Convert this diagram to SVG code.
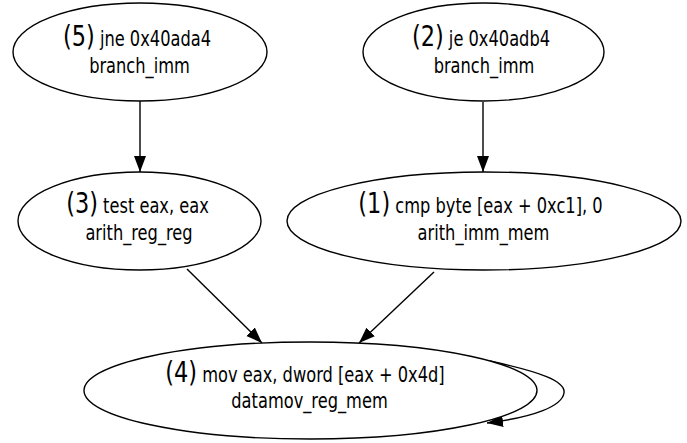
<svg xmlns="http://www.w3.org/2000/svg" width="687" height="443" viewBox="0 0 687 443">
<style>
.n{fill:#fff;stroke:#000;stroke-width:1.4}
.e{fill:none;stroke:#000;stroke-width:1.4}
text{font-family:"DejaVu Sans Condensed","DejaVu Sans",sans-serif;font-size:21px;fill:#000;text-anchor:middle}
.b{font-size:29px}
</style>
<defs>
<marker id="ah" markerUnits="userSpaceOnUse" markerWidth="17" markerHeight="13" refX="16" refY="6.5" orient="auto">
<path d="M0,0.5 L16,6.5 L0,12.5 z" fill="#000"/>
</marker>
</defs>
<rect width="687" height="443" fill="#fff"/>
<g id="edges">
<path class="e" d="M140,101 L140,172" marker-end="url(#ah)"/>
<path class="e" d="M483,102 L483,172" marker-end="url(#ah)"/>
<path class="e" d="M187,269 L262,343" marker-end="url(#ah)"/>
<path class="e" d="M434,272 L359,343" marker-end="url(#ah)"/>
<path class="e" d="M490,361 C540,372 566,381 564,393 C562,406 535,417 487,423" marker-end="url(#ah)"/>
</g>
<g id="n5">
<ellipse class="n" cx="140" cy="52" rx="127" ry="49"/>
<text transform="translate(137,46) scale(0.86,1)"><tspan class="b">(5)</tspan> jne 0x40ada4</text>
<text transform="translate(139.5,73) scale(0.86,1)">branch_imm</text>
</g>
<g id="n2">
<ellipse class="n" cx="483.5" cy="52" rx="120.5" ry="49"/>
<text transform="translate(481,46) scale(0.86,1)"><tspan class="b">(2)</tspan> je 0x40adb4</text>
<text transform="translate(484,73) scale(0.86,1)">branch_imm</text>
</g>
<g id="n3">
<ellipse class="n" cx="139.5" cy="221" rx="121.5" ry="49"/>
<text transform="translate(137.5,213) scale(0.86,1)"><tspan class="b">(3)</tspan> test eax, eax</text>
<text transform="translate(139,240) scale(0.86,1)">arith_reg_reg</text>
</g>
<g id="n1">
<ellipse class="n" cx="484" cy="221" rx="197" ry="49"/>
<text transform="translate(480.5,213) scale(0.86,1)"><tspan class="b">(1)</tspan> cmp byte [eax + 0xc1], 0</text>
<text transform="translate(483.5,240) scale(0.86,1)">arith_imm_mem</text>
</g>
<g id="n4">
<ellipse class="n" cx="310.5" cy="390.5" rx="226.5" ry="48.5"/>
<text transform="translate(305,382) scale(0.86,1)"><tspan class="b">(4)</tspan> mov eax, dword [eax + 0x4d]</text>
<text transform="translate(309.5,408) scale(0.86,1)">datamov_reg_mem</text>
</g>
</svg>
